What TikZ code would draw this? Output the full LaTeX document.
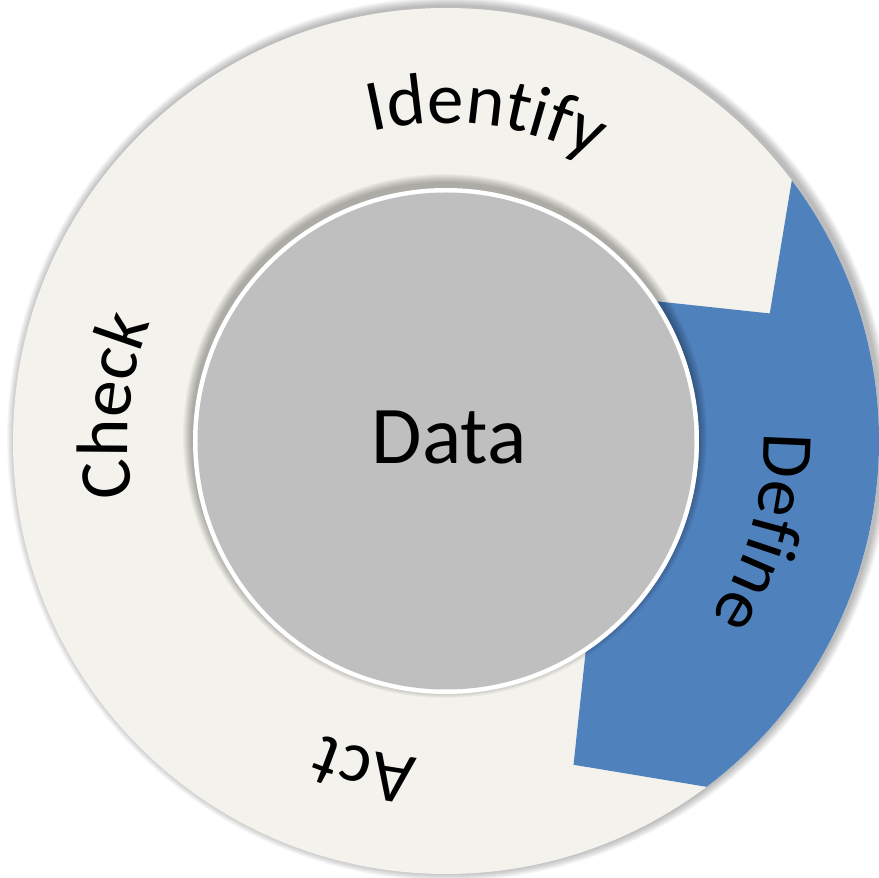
\documentclass[tikz,border=0pt]{standalone}
\usepackage{fontspec}
\setmainfont{Carlito}
\usetikzlibrary{decorations.text}
\definecolor{ringc}{HTML}{F3F2EC}
\definecolor{bluec}{HTML}{4F81BD}
\definecolor{grayc}{HTML}{BFBFBF}
\newcommand\lblfont{\fontsize{73}{73}\selectfont}
\newcommand\datafont{\fontsize{82}{82}\selectfont}
\begin{document}
\begin{tikzpicture}[x=1pt,y=1pt,
  lbl/.style={decorate, decoration={text along path, text align=center, text color=black}},
  shad/.style={fill=black, opacity=0.03}
]
\useasboundingbox (-446,-437) rectangle (433,441);
\fill[white] (-446,-437) rectangle (433,441);
% outer shadow
\foreach \k in {1,...,9} \fill[shad] (3,2) circle[radius=433+\k];
% ring
\fill[ringc] (0,0) circle[radius=433];
% blue segment
\fill[bluec] (37:433) arc[start angle=37, end angle=-53, radius=433]
  -- (-68.5:348) -- (-56.5:253) arc[start angle=-56.5, end angle=33.5, radius=253]
  -- (21.5:348) -- cycle;
% inner shadow
\foreach \k in {1,...,9} \fill[shad, opacity=0.035] (-1,5) circle[radius=253+\k];
% inner circle
\fill[white] (0,0) circle[radius=253];
\fill[grayc] (0,0) circle[radius=248.5];
\node[font=\datafont, inner sep=0] (data) at (3,4) {Data};
% labels
\path[lbl, decoration={text={|\lblfont|Identify}}] (143:318) arc[start angle=143, end angle=23, radius=318];
\path[lbl, decoration={text={|\lblfont|Define}}] (44:318) arc[start angle=44, end angle=-76, radius=318];
\path[lbl, decoration={text={|\lblfont|Act}}] (-44:318) arc[start angle=-44, end angle=-164, radius=318];
\path[lbl, decoration={text={|\lblfont|Check}}] (234:318) arc[start angle=234, end angle=114, radius=318];
\end{tikzpicture}
\end{document}
